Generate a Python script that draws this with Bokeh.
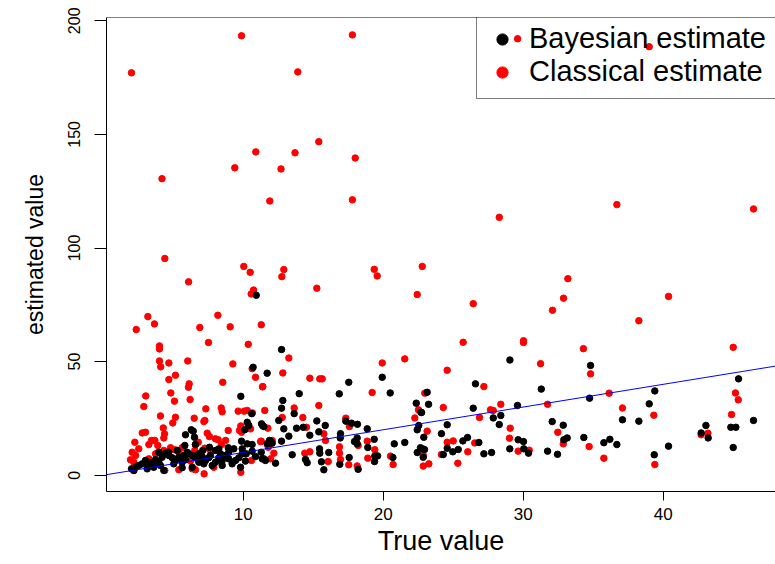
from bokeh.plotting import figure
from bokeh.models import Range1d, Slope, Span, Legend, LegendItem, FixedTicker
from bokeh.embed import file_html
from bokeh.resources import INLINE

# Bayesian estimates (black)
bayes_x = [10.93, 10.71, 12.74, 11.71, 9.83, 10.61, 10.29, 10.4, 10.11, 11.31, 11.47, 6.29, 6.43, 5.88, 6.52,
           5.83, 6.59, 7.59, 8.26, 8.93, 9.88, 10.29, 10.64, 9.93, 10.21, 10.64, 10.88, 11.36, 11.71, 11.88,
           11.29, 11.59, 10.16, 9.81,
           2.02, 2.31, 2.54, 2.79, 3.02, 3.26, 3.5, 3.74, 3.97, 4.21, 4.45, 4.69, 4.93, 4.69, 5.16, 5.4, 5.64,
           5.88, 6.11, 6.36, 6.59, 6.83, 7.07, 7.31, 7.54, 7.79, 8.02, 8.26, 8.5, 8.74, 8.97, 9.21, 9.45, 9.69,
           9.93, 6.0, 5.76, 4.09, 5.04, 6.83, 7.19, 8.5, 4.33, 6.36, 8.97, 9.33, 8.02, 3.14, 3.61, 2.19, 5.64,
           3.97, 5.29, 7.11, 8.38, 7.66,
           17.54, 19.93, 14.0, 16.86, 20.5, 12.83, 12.74, 13.64, 12.54, 15.26, 15.86, 17.33, 17.74, 18.16, 18.86,
           11.38, 12.9, 13.81, 14.29, 14.76, 15.4, 16.95, 16.93, 13.26, 18.14, 17.95, 18.14, 19.36, 18.9, 12.74,
           11.95, 12.07, 11.83, 21.54, 20.79, 22.36, 22.69, 22.43, 22.54, 22.43, 22.66, 22.95, 20.69, 19.4, 19.6,
           19.38, 17.57, 16.9, 18.21, 15.59, 15.76, 15.45, 16.11, 15.47, 14.45, 14.57, 13.5, 12.31, 11.47,
           29.05, 34.81, 26.59, 31.29, 45.38, 39.4, 39.0, 34.74, 29.59, 26.43, 23.24, 23.14, 24.57, 27.86, 28.4,
           28.29, 32.07, 32.86, 37.09, 38.26, 46.45, 43.05, 42.71, 43.21, 44.83, 45.19, 45.0, 40.38, 39.36, 36.69,
           36.19, 35.76, 34.33, 33.14, 32.9, 32.45, 31.74, 30.02, 29.64, 30.04, 30.38, 29.04, 27.74, 27.19, 26.83,
           26.02, 25.69, 25.36, 24.97, 24.57, 24.16, 24.29, 22.9, 22.79, 22.86, 22.74]
bayes_y = [79.2, 47.5, 55.3, 44.9, 34.7, 27.1, 23.3, 21.9, 20.0, 22.6, 21.4, 20.0, 19.4, 17.8, 16.7,
           13.1, 13.5, 12.3, 11.6, 12.1, 15.0, 13.8, 13.5, 11.6, 9.4, 10.6, 8.2, 7.2, 13.8, 15.3,
           10.1, 6.5, 6.2, 3.5,
           2.8, 3.5, 4.3, 5.0, 6.5, 4.7, 5.7, 6.8, 5.7, 7.9, 9.7, 8.7, 7.7, 10.1, 6.5, 7.9, 5.7,
           6.8, 9.4, 8.7, 7.7, 9.4, 8.2, 6.5, 7.7, 4.3, 5.7, 7.7, 6.5, 8.7, 7.2, 5.0, 6.5, 7.7,
           9.4, 10.1, 8.7, 4.3, 5.0, 5.7, 5.0, 4.3, 2.1, 3.5, 10.1, 11.6, 10.9, 2.8, 3.5, 2.1, 3.3,
           10.1, 10.9, 10.9, 9.4, 8.7,
           40.9, 43.1, 35.9, 35.8, 36.2, 32.9, 29.5, 27.1, 24.1, 23.9, 21.9, 23.8, 22.9, 22.4, 20.4,
           21.9, 20.4, 20.7, 21.1, 17.6, 19.1, 18.3, 16.4, 17.2, 16.4, 14.8, 13.8, 15.8, 12.2, 15.0,
           14.8, 14.1, 14.1, 14.4, 13.8, 31.7, 27.7, 20.0, 21.9, 10.0, 12.1, 11.3, 7.8, 8.4, 8.5,
           6.0, 7.8, 4.8, 2.6, 5.9, 2.4, 11.6, 10.0, 9.7, 6.9, 5.5, 9.0, 5.3, 7.2,
           50.7, 48.3, 40.2, 37.9, 42.4, 37.1, 31.4, 33.9, 30.7, 29.5, 31.2, 36.5, 22.2, 25.2, 26.3,
           22.3, 23.6, 22.0, 24.4, 23.8, 24.1, 21.9, 18.6, 16.4, 21.1, 21.1, 12.2, 12.8, 9.0, 13.5,
           15.8, 14.3, 16.6, 16.4, 15.6, 9.2, 10.6, 14.8, 15.6, 11.6, 9.7, 11.6, 10.0, 9.4, 14.4,
           16.6, 15.1, 11.3, 10.3, 11.9, 18.3, 9.1, 16.7, 11.6, 7.9, 27.6]

# Classical estimates (red)
classical_x = [2.02, 9.88, 17.8, 29.6, 39.0, 4.2, 9.4, 10.9, 13.7, 15.4, 13.9, 11.9, 17.8, 18.0, 12.7,
               4.4, 10.04, 10.5, 12.9, 12.76, 19.36, 19.57, 22.79, 6.1, 10.74, 10.57, 15.26, 22.43, 3.19, 3.66,
               2.36, 8.19, 6.9, 9.07, 11.29, 7.52, 10.36, 4.02, 4.02,
               28.29, 36.69, 46.45, 33.19, 26.43, 32.88, 32.09, 40.38, 38.26, 25.71, 30.02, 30.02, 34.3, 45.0,
               24.57, 27.19, 31.24, 34.81, 36.14, 45.16, 45.36, 44.88, 39.33, 37.09, 31.74, 28.4, 27.66, 27.86,
               26.88, 24.29, 22.97, 23.14, 29.07, 29.02, 32.47, 32.86, 29.64, 30.43, 26.54, 26.04, 24.57, 25.0,
               25.33, 24.16, 23.26, 22.86, 34.71, 35.76, 39.4, 42.71, 43.19, 22.86,
               13.26, 12.83, 14.76, 15.47, 15.64, 19.93, 21.54, 19.21, 11.4, 11.54, 13.64, 15.4, 14.26, 12.79,
               11.76, 17.33, 17.59, 14.52, 15.76, 15.88, 18.86, 18.21, 16.88, 16.88, 16.95, 19.4, 18.9, 17.54,
               18.14, 16.07, 14.76, 14.4, 12.19, 20.52, 20.71, 22.26, 22.52, 11.24,
               4.02, 4.69, 4.11, 5.16, 4.69, 3.04, 2.9, 4.09, 4.83, 5.09, 10.64, 6.04, 6.14, 6.09, 6.21, 8.54,
               9.26, 10.88, 11.38, 7.33, 7.26, 8.43, 10.29, 10.07, 9.64, 4.29, 5.16,
               4.97, 6.5, 7.19, 8.5, 10.66, 2.79, 3.02, 4.38, 4.33, 2.26, 3.45, 3.69, 3.9, 3.26, 2.54, 2.07,
               2.31, 2.19, 1.95, 2.19, 4.81, 5.11, 5.4, 5.64, 6.79, 6.54, 7.43, 7.59, 8.02, 8.21, 8.74, 8.93,
               8.45, 7.26, 7.66, 9.83, 9.74, 9.88, 10.52, 11.29, 10.59, 7.21, 9.83, 4.4, 6.36, 6.59, 11.79,
               12.07, 11.95, 6.24, 7.11, 3.74, 3.26, 5.4, 7.9, 4.33, 6.59]
classical_y = [177.1, 193.4, 193.8, 192.1, 188.6, 130.5, 135.3, 142.3, 141.9, 146.8, 177.5, 120.7, 121.2, 139.6, 134.8,
               95.4, 91.9, 89.3, 90.5, 87.4, 90.6, 87.7, 91.9, 85.1, 81.5, 79.8, 82.3, 79.5, 69.8, 66.6,
               64.1, 70.4, 65.0, 65.3, 66.2, 58.4, 57.6, 56.9, 55.6,
               113.5, 119.1, 117.2, 86.5, 75.5, 77.9, 72.6, 78.7, 68.0, 58.5, 59.2, 58.4, 55.7, 56.3,
               46.2, 39.0, 49.1, 44.6, 36.1, 36.2, 33.2, 26.7, 26.4, 29.6, 31.2, 31.2, 28.8, 28.5,
               25.4, 29.8, 36.1, 19.4, 20.7, 16.3, 18.9, 13.8, 10.6, 11.0, 14.2, 10.3, 14.5, 15.1,
               5.3, 9.1, 5.0, 4.0, 12.6, 7.5, 4.7, 17.8, 18.5, 8.7,
               51.6, 45.0, 42.7, 42.4, 42.4, 49.4, 51.2, 36.4, 39.0, 28.5, 29.6, 30.7, 25.4, 25.4,
               20.7, 25.1, 21.4, 21.1, 18.2, 15.3, 15.0, 13.1, 12.5, 9.7, 6.9, 11.2, 7.5, 4.6,
               4.1, 6.0, 10.3, 9.7, 9.7, 8.4, 4.7, 25.2, 28.8, 14.8,
               50.3, 49.4, 47.7, 44.0, 42.1, 34.9, 30.2, 26.1, 36.2, 32.6, 46.9, 50.3, 40.2, 38.7, 33.3, 40.9,
               49.0, 43.1, 38.9, 29.2, 24.1, 29.6, 28.5, 28.2, 28.2, 20.8, 25.5,
               23.0, 25.1, 23.6, 27.9, 27.4, 18.6, 18.9, 18.2, 16.4, 14.5, 15.3, 15.3, 13.1, 13.5, 11.6, 10.1,
               8.7, 5.7, 6.8, 2.1, 12.1, 11.2, 10.1, 12.1, 14.5, 10.9, 18.5, 17.0, 16.0, 15.6, 15.3, 19.7,
               13.5, 11.9, 10.9, 21.7, 19.7, 18.9, 20.4, 15.0, 6.5, 0.6, 1.3, 2.1, 2.8, 2.4, 12.3,
               15.3, 7.2, 6.2, 5.6, 9.4, 7.2, 2.4, 3.5, 10.9, 13.5]

x_ticks = [10, 20, 30, 40]
y_ticks = [0, 50, 100, 150, 200]
x_limits = (0.236, 48.02)
y_limits = (-7.17, 201.45)
line_intercept = 0
line_slope = 1
series_labels = ["Bayesian estimate", "Classical estimate"]
x_title = "True value"
y_title = "estimated value"

FONT = "Liberation Sans"

p = figure(width=775, height=564, output_backend="svg", toolbar_location=None,
           x_range=Range1d(*x_limits), y_range=Range1d(*y_limits),
           min_border_left=106, min_border_right=0, min_border_top=17, min_border_bottom=73)
p.grid.visible = False
p.outline_line_color = None
p.background_fill_color = "white"
p.border_fill_color = "white"

r_red = p.scatter(classical_x, classical_y, size=6.5, fill_color="#FF0000", line_color="#FF0000")
r_black = p.scatter(bayes_x, bayes_y, size=6.5, fill_color="#000000", line_color="#000000")

p.add_layout(Slope(gradient=line_slope, y_intercept=line_intercept, line_color="#0000FF", line_width=1))
p.add_layout(Span(location=y_limits[1], dimension="width", line_color="black", line_width=1))

for ax in (p.xaxis[0], p.yaxis[0]):
    ax.axis_line_color = "black"
    ax.major_tick_line_color = "black"
    ax.minor_tick_line_color = None
    ax.major_tick_in = 0
    ax.major_label_text_font = FONT
    ax.major_label_text_color = "black"
    ax.axis_label_text_font = FONT
    ax.axis_label_text_font_style = "normal"
    ax.axis_label_text_color = "black"

p.xaxis[0].ticker = FixedTicker(ticks=x_ticks)
p.yaxis[0].ticker = FixedTicker(ticks=y_ticks)
p.xaxis[0].major_tick_out = 9
p.yaxis[0].major_tick_out = 12
p.xaxis[0].major_label_text_font_size = "17px"
p.yaxis[0].major_label_text_font_size = "16px"
p.yaxis[0].major_label_orientation = "vertical"
p.xaxis[0].major_label_standoff = 7
p.yaxis[0].major_label_standoff = 14
p.xaxis[0].axis_label = x_title
p.yaxis[0].axis_label = y_title
p.xaxis[0].axis_label_text_font_size = "27px"
p.yaxis[0].axis_label_text_font_size = "23px"
p.xaxis[0].axis_label_standoff = 3
p.yaxis[0].axis_label_standoff = 18

legend = Legend(items=[LegendItem(label=series_labels[0], renderers=[r_black]),
                       LegendItem(label=series_labels[1], renderers=[r_red])],
                location=(370, 392))
legend.background_fill_alpha = 0
legend.border_line_color = "black"
legend.border_line_width = 1
legend.label_text_font = FONT
legend.label_text_font_size = "29px"
legend.label_text_color = "black"
legend.label_standoff = 12
legend.glyph_width = 30
legend.glyph_height = 28
legend.label_height = 28
legend.spacing = 0
legend.padding = 10
legend.margin = 0
p.add_layout(legend)

open("out.html", "w").write(file_html(p, INLINE))
